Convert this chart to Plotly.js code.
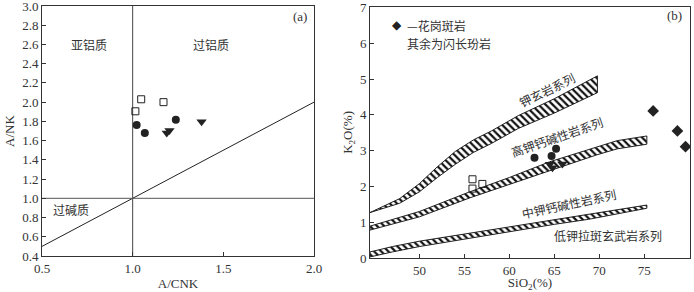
<!DOCTYPE html>
<html>
<head>
<meta charset="utf-8">
<script src="https://cdn.plot.ly/plotly-3.0.1.min.js"></script>
<style>html,body{margin:0;padding:0;background:#fff;}#chart{width:694px;height:292px;}</style>
</head>
<body>
<div id="chart"></div>
<script>
// ---------- Panel (a): A/CNK vs A/NK ----------
var aSquareX = [1.047, 1.17, 1.015];
var aSquareY = [2.03, 2.00, 1.905];
var aCircleX = [1.022, 1.067, 1.238];
var aCircleY = [1.763, 1.68, 1.818];
var aTriX = [1.188, 1.203, 1.38];
var aTriY = [1.68, 1.704, 1.797];
var aDiagX = [0.5, 2.0];
var aDiagY = [0.5, 2.0];
var aTicksX = [0.5, 1.0, 1.5, 2.0];
var aTicksY = [0.4, 0.6, 0.8, 1.0, 1.2, 1.4, 1.6, 1.8, 2.0, 2.2, 2.4, 2.6, 2.8, 3.0];

// ---------- Panel (b): SiO2 vs K2O ----------
var bDiamondX = [76.0, 78.7, 79.6];
var bDiamondY = [4.11, 3.55, 3.11];
var bCircleX = [62.8, 64.7, 65.2];
var bCircleY = [2.80, 2.85, 3.05];
var bTriX = [64.5, 64.8, 65.9];
var bTriY = [2.62, 2.52, 2.63];
var bSquareX = [55.9, 55.9, 57.0];
var bSquareY = [2.20, 1.94, 2.07];

// Shoshonite boundary band
var band1UpperX = [44.5, 47.8, 50, 52, 54, 56, 58, 61, 65, 69.8];
var band1UpperY = [1.27, 1.66, 2.08, 2.55, 2.98, 3.30, 3.55, 3.98, 4.45, 5.09];
var band1LowerX = [44.5, 47.8, 50, 52, 54, 56, 58, 61, 65, 69.8];
var band1LowerY = [1.27, 1.53, 1.85, 2.25, 2.62, 2.95, 3.20, 3.62, 4.05, 4.62];
// High-K calc-alkaline boundary band
var band2UpperX = [44.5, 50, 55.6, 60, 64.5, 69.7, 72, 75.3];
var band2UpperY = [0.89, 1.30, 1.85, 2.25, 2.69, 3.11, 3.28, 3.41];
var band2LowerX = [44.5, 50, 55.6, 60, 64.5, 69.7, 72, 75.3];
var band2LowerY = [0.78, 1.15, 1.68, 2.05, 2.44, 2.88, 3.05, 3.18];
// Medium-K / low-K boundary band
var band3UpperX = [44.5, 47, 50, 55, 60, 65, 68.8, 72, 75.3];
var band3UpperY = [0.17, 0.32, 0.47, 0.67, 0.88, 1.08, 1.23, 1.36, 1.48];
var band3LowerX = [44.5, 47, 50, 55, 60, 65, 68.8, 72, 75.3];
var band3LowerY = [0.03, 0.17, 0.32, 0.53, 0.74, 0.94, 1.08, 1.24, 1.39];

var bTicksX = [50, 55, 60, 65, 70, 75];
var bTicksY = [0, 1, 2, 3, 4, 5, 6, 7];

var serif = "'Liberation Serif', 'Times New Roman', serif";
var cjk = "'Noto Sans CJK SC', sans-serif";
var ink = "#222";
var txt = "#333";

function band(ux, uy, lx, ly) {
  var x = ux.slice(), y = uy.slice();
  for (var i = lx.length - 1; i >= 0; i--) { x.push(lx[i]); y.push(ly[i]); }
  x.push(ux[0]); y.push(uy[0]);
  return {
    x: x, y: y, xaxis: 'x2', yaxis: 'y2', mode: 'lines', fill: 'toself',
    fillcolor: 'white',
    fillpattern: {shape: '\\', fgcolor: '#111', bgcolor: 'white', size: 5, solidity: 0.45},
    line: {color: ink, width: 1}, showlegend: false, hoverinfo: 'skip'
  };
}

var traces = [
  {x: aDiagX, y: aDiagY, mode: 'lines', line: {color: ink, width: 1}, xaxis: 'x', yaxis: 'y', showlegend: false},
  {x: [1, 1], y: [0.4, 3.0], mode: 'lines', line: {color: '#444', width: 1}, xaxis: 'x', yaxis: 'y', showlegend: false},
  {x: [0.5, 2.0], y: [1, 1], mode: 'lines', line: {color: '#555', width: 1}, xaxis: 'x', yaxis: 'y', showlegend: false},
  {x: aSquareX, y: aSquareY, mode: 'markers', marker: {symbol: 'square-open', size: 7, color: ink, line: {width: 1}}, xaxis: 'x', yaxis: 'y', showlegend: false},
  {x: aCircleX, y: aCircleY, mode: 'markers', marker: {symbol: 'circle', size: 8, color: ink}, xaxis: 'x', yaxis: 'y', showlegend: false},
  {x: aTriX, y: aTriY, mode: 'markers', marker: {symbol: 'triangle-down', size: 9, color: ink}, xaxis: 'x', yaxis: 'y', showlegend: false},

  band(band1UpperX, band1UpperY, band1LowerX, band1LowerY),
  band(band2UpperX, band2UpperY, band2LowerX, band2LowerY),
  band(band3UpperX, band3UpperY, band3LowerX, band3LowerY),
  {x: bSquareX, y: bSquareY, mode: 'markers', marker: {symbol: 'square-open', size: 7, color: ink, line: {width: 1}}, xaxis: 'x2', yaxis: 'y2', showlegend: false},
  {x: bCircleX, y: bCircleY, mode: 'markers', marker: {symbol: 'circle', size: 8, color: ink}, xaxis: 'x2', yaxis: 'y2', showlegend: false},
  {x: bTriX, y: bTriY, mode: 'markers', marker: {symbol: 'triangle-down', size: 9, color: ink}, xaxis: 'x2', yaxis: 'y2', showlegend: false},
  {x: bDiamondX, y: bDiamondY, mode: 'markers', marker: {symbol: 'diamond', size: 9, color: ink}, xaxis: 'x2', yaxis: 'y2', showlegend: false}
];

var axCommon = {
  showline: true, mirror: true, linecolor: '#333', linewidth: 1,
  showgrid: false, zeroline: false, ticks: 'inside', ticklen: 4, tickcolor: '#333',
  ticklabeloverflow: 'allow',
  tickfont: {family: serif, size: 13, color: txt}, automargin: false
};

function ax(extra) { return Object.assign({}, axCommon, extra); }

var layout = {
  width: 694, height: 292,
  margin: {l: 0, r: 0, t: 0, b: 0},
  paper_bgcolor: 'white', plot_bgcolor: 'white',
  showlegend: false,
  xaxis: ax({domain: [42/694, 314/694], range: [0.5, 2.0], tickvals: aTicksX, tickformat: '.1f', anchor: 'y',
    title: {text: 'A/CNK', font: {family: serif, size: 13, color: txt}, standoff: 4}}),
  yaxis: ax({domain: [36/292, 286/292], range: [0.4, 3.0], tickvals: aTicksY, tickformat: '.1f', anchor: 'x',
    title: {text: 'A/NK', font: {family: serif, size: 13, color: txt}, standoff: 4}}),
  xaxis2: ax({domain: [370/694, 690/694], range: [44.5, 80.1], tickvals: bTicksX, anchor: 'y2',
    title: {text: 'SiO<sub>2</sub>(%)', font: {family: serif, size: 13, color: txt}, standoff: 4}}),
  yaxis2: ax({domain: [34/292, 285.2/292], range: [0, 7.02], tickvals: bTicksY, anchor: 'x2',
    title: {text: 'K<sub>2</sub>O(%)', font: {family: serif, size: 13, color: txt}, standoff: 4}}),
  annotations: [
    {xref: 'x', yref: 'y', x: 1.923, y: 2.886, text: '(a)', showarrow: false, font: {family: serif, size: 13, color: txt}},
    {xref: 'x2', yref: 'y2', x: 78.4, y: 6.79, text: '(b)', showarrow: false, font: {family: serif, size: 13, color: txt}},
    {xref: 'x', yref: 'y', x: 0.76, y: 2.6, text: '亚铝质', showarrow: false, font: {family: cjk, size: 12, color: txt}},
    {xref: 'x', yref: 'y', x: 1.43, y: 2.6, text: '过铝质', showarrow: false, font: {family: cjk, size: 12, color: txt}},
    {xref: 'x', yref: 'y', x: 0.66, y: 0.88, text: '过碱质', showarrow: false, font: {family: cjk, size: 12, color: txt}},
    {xref: 'x2', yref: 'y2', x: 64.2, y: 4.7, text: '钾玄岩系列', textangle: -26, showarrow: false, font: {family: cjk, size: 12, color: txt}},
    {xref: 'x2', yref: 'y2', x: 65.3, y: 3.39, text: '高钾钙碱性岩系列', textangle: -19, showarrow: false, font: {family: cjk, size: 12, color: txt}},
    {xref: 'x2', yref: 'y2', x: 66.6, y: 1.51, text: '中钾钙碱性岩系列', textangle: -12, showarrow: false, font: {family: cjk, size: 12, color: txt}},
    {xref: 'x2', yref: 'y2', x: 71.0, y: 0.62, text: '低钾拉斑玄武岩系列', showarrow: false, font: {family: cjk, size: 12, color: txt}},
    {xref: 'x2', yref: 'y2', x: 47.47, y: 6.51, text: '◆', showarrow: false, font: {family: "'DejaVu Sans'", size: 12, color: ink}},
    {xref: 'x2', yref: 'y2', x: 48.4, y: 6.51, xanchor: 'left', text: '—花岗斑岩', showarrow: false, font: {family: cjk, size: 12, color: txt}},
    {xref: 'x2', yref: 'y2', x: 48.4, y: 6.0, xanchor: 'left', text: '其余为闪长玢岩', showarrow: false, font: {family: cjk, size: 12, color: txt}}
  ]
};

Plotly.newPlot('chart', traces, layout, {staticPlot: true, displayModeBar: false});
</script>
</body>
</html>
